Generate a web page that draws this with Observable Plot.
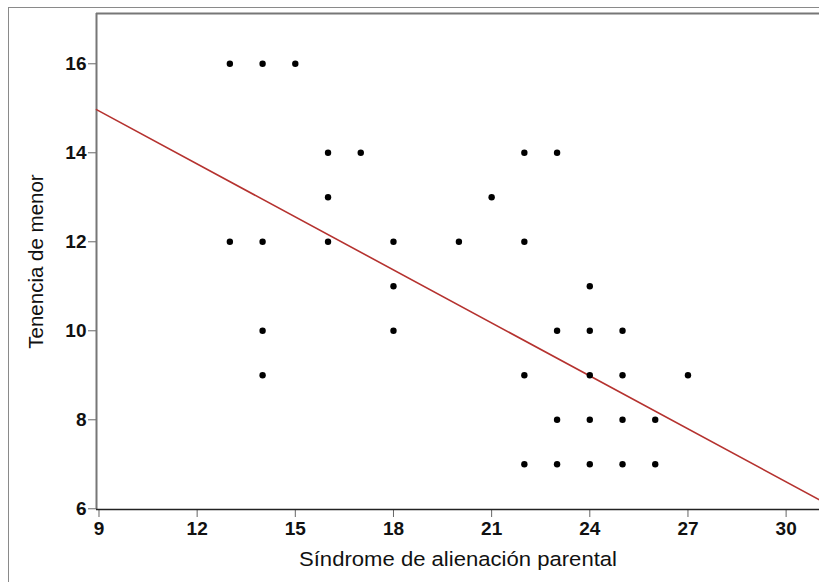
<!DOCTYPE html>
<html>
<head>
<meta charset="utf-8">
<script src="https://cdn.jsdelivr.net/npm/d3@7"></script>
<script src="https://cdn.jsdelivr.net/npm/@observablehq/plot@0.6"></script>
<style>
  html, body { margin: 0; padding: 0; background: #fff; overflow: hidden; }
  #wrap { position: relative; width: 819px; height: 582px; overflow: hidden; }
  #outer { position: absolute; left: 8px; top: 7px; width: 900px; height: 700px; border: 1.5px solid #8a8a8a; box-sizing: border-box; }
  #chart { position: absolute; left: 0; top: 0; }
</style>
</head>
<body>
<div id="wrap"><div id="outer"></div><div id="chart"></div></div>
<script>
// Scatter points: Síndrome de alienación parental (x) vs Tenencia de menor (y)
const xValues = [13,14,15, 16,17,22,23, 16,21, 13,14,16,18,20,22, 18,24, 14,18,23,24,25, 14,22,24,25,27, 23,24,25,26, 22,23,24,25,26];
const yValues = [16,16,16, 14,14,14,14, 13,13, 12,12,12,12,12,12, 11,11, 10,10,10,10,10, 9,9,9,9,9, 8,8,8,8, 7,7,7,7,7];

// Fit line endpoints
const fitX = [8.924, 31.02];
const fitY = [14.97, 6.2];

const xTicks = [9, 12, 15, 18, 21, 24, 27, 30];
const yTicks = [6, 8, 10, 12, 14, 16];
const xDomain = [8.924, 31.02];
const yDomain = [5.984, 17.13];
const xTitle = "Síndrome de alienación parental";
const yTitle = "Tenencia de menor";

const points = xValues.map((x, i) => ({x, y: yValues[i]}));
const fit = fitX.map((x, i) => ({x, y: fitY[i]}));

const chart = Plot.plot({
  width: 819,
  height: 582,
  marginLeft: 96,
  marginRight: 0,
  marginTop: 13,
  marginBottom: 73,
  style: {fontFamily: "'Liberation Sans', Arial, sans-serif", background: "transparent", overflow: "visible"},
  x: {domain: xDomain},
  y: {domain: yDomain},
  marks: [
    Plot.axisX({ticks: xTicks, tickSize: 8, tickPadding: 4, stroke: "#666", fill: "#111", label: null, fontSize: 19, fontWeight: "bold"}),
    Plot.axisY({ticks: yTicks, tickSize: 8, tickPadding: 2, stroke: "#666", fill: "#111", label: null, fontSize: 19, fontWeight: "bold"}),
    Plot.ruleY([yDomain[1]], {stroke: "#777", strokeWidth: 2}),
    Plot.ruleX([xDomain[0]], {stroke: "#777", strokeWidth: 2}),
    Plot.ruleY([yDomain[0]], {stroke: "#222", strokeWidth: 1.5}),
    Plot.line(fit, {x: "x", y: "y", stroke: "#b5322f", strokeWidth: 1.6}),
    Plot.dot(points, {x: "x", y: "y", r: 3.2, fill: "#000", stroke: null}),
    Plot.text([xTitle], {frameAnchor: "bottom", dy: 56, fontSize: 20.5, fill: "#111", textAnchor: "middle", text: d => d}),
    Plot.text([yTitle], {frameAnchor: "left", dx: -60, rotate: -90, fontSize: 20.5, fill: "#111", textAnchor: "middle", text: d => d})
  ]
});
const svg = d3.select(chart);
const tickStrings = new Set([...xTicks, ...yTicks].map(String));
svg.selectAll("text").each(function() {
  const t = this.textContent;
  if (tickStrings.has(t)) {
    d3.select(this).style("font-size", "19px").style("font-weight", "bold");
  } else if (t === xTitle) {
    d3.select(this).attr("textLength", 318).attr("lengthAdjust", "spacingAndGlyphs");
  }
});
document.getElementById("chart").appendChild(chart);
</script>
</body>
</html>
